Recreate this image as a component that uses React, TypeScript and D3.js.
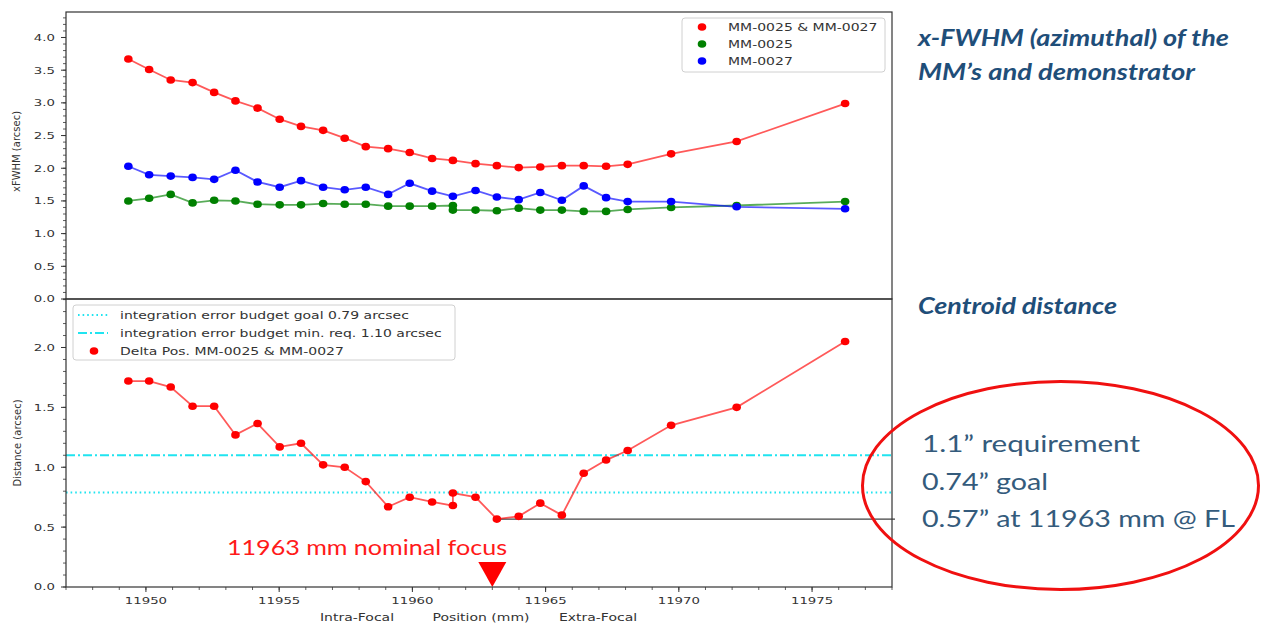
import * as d3 from 'd3';
import { useEffect, useRef } from 'react';

// focus positions (mm), one per measurement
const positions = [
  11949.34, 11950.12, 11950.93, 11951.75, 11952.56, 11953.36, 11954.19, 11955.02, 11955.82,
  11956.65, 11957.46, 11958.25, 11959.09, 11959.9, 11960.74, 11961.52, 11962.37, 11963.17,
  11963.99, 11964.8, 11965.61, 11966.43, 11967.27, 11968.08, 11969.71, 11972.17, 11976.24,
];
// same positions, with the repeated measurement at 11961.52
const positionsRepeat = [
  11949.34, 11950.12, 11950.93, 11951.75, 11952.56, 11953.36, 11954.19, 11955.02, 11955.82,
  11956.65, 11957.46, 11958.25, 11959.09, 11959.9, 11960.74, 11961.52, 11961.52, 11962.37,
  11963.17, 11963.99, 11964.8, 11965.61, 11966.43, 11967.27, 11968.08, 11969.71, 11972.17,
  11976.24,
];

const fwhmBoth = [
  3.67, 3.51, 3.35, 3.31, 3.16, 3.03, 2.92, 2.75, 2.64, 2.58, 2.46, 2.33, 2.3, 2.24, 2.15, 2.12,
  2.07, 2.04, 2.01, 2.02, 2.04, 2.04, 2.03, 2.06, 2.22, 2.41, 2.99,
];
const fwhmMM0027 = [
  2.03, 1.9, 1.88, 1.86, 1.83, 1.97, 1.79, 1.71, 1.81, 1.71, 1.67, 1.71, 1.6, 1.77, 1.65, 1.57,
  1.66, 1.56, 1.52, 1.63, 1.51, 1.73, 1.55, 1.49, 1.49, 1.41, 1.38,
];
const fwhmMM0025 = [
  1.5, 1.54, 1.6, 1.47, 1.51, 1.5, 1.45, 1.44, 1.44, 1.46, 1.45, 1.45, 1.42, 1.42, 1.42, 1.43,
  1.36, 1.36, 1.35, 1.39, 1.36, 1.36, 1.34, 1.34, 1.37, 1.4, 1.43, 1.49,
];
const deltaPos = [
  1.72, 1.72, 1.67, 1.51, 1.51, 1.27, 1.365, 1.17, 1.2, 1.02, 1.0, 0.88, 0.67, 0.75, 0.71, 0.68,
  0.785, 0.75, 0.567, 0.59, 0.7, 0.6, 0.95, 1.06, 1.14, 1.35, 1.5, 2.05,
];

const xTicks = [11950, 11955, 11960, 11965, 11970, 11975];
const yTicksTop = [0, 0.5, 1, 1.5, 2, 2.5, 3, 3.5, 4];
const yTicksBottom = [0, 0.5, 1, 1.5, 2];

const goalLimit = 0.79;
const reqLimit = 1.1;
const nominalFocus = 11963;
const bestPosition = 11963.17;
const bestDistance = 0.567;

const topLegend = ['MM-0025 & MM-0027', 'MM-0025', 'MM-0027'];
const bottomLegend = [
  'integration error budget goal 0.79 arcsec',
  'integration error budget min. req. 1.10 arcsec',
  'Delta Pos. MM-0025 & MM-0027',
];
const ellipseNotes = ['1.1\u201d requirement', '0.74\u201d goal', '0.57\u201d at 11963 mm @ FL'];

const W = 1262;
const H = 626;
const SX = 1.4; // the source figure is stretched horizontally

const Chart = () => {
  const ref = useRef<SVGSVGElement>(null);

  useEffect(() => {
    const svg = d3.select(ref.current);
    svg.selectAll('*').remove();

    const left = 66;
    const right = 892;
    const topY = 12;
    const midY = 299;
    const botY = 587;

    const x = d3.scaleLinear().domain([11947, 11978]).range([left, right]);
    const yTop = d3.scaleLinear().domain([0, 4.39]).range([midY, topY]);
    const yBot = d3.scaleLinear().domain([0, 2.405]).range([botY, midY]);

    const mpl = (g: any, px: number, py: number, s: string, size: number, anchor: string) =>
      g
        .append('text')
        .attr('transform', `translate(${px},${py}) scale(${SX},1)`)
        .attr('text-anchor', anchor)
        .attr('font-family', 'DejaVu Sans')
        .attr('font-size', size)
        .attr('fill', '#333')
        .text(s);

    const g = svg.append('g');

    // y axes with minor ticks
    const drawY = (scale: any, ticks: number[], maxVal: number) => {
      d3.range(0, maxVal + 1e-9, 0.1).forEach((v) => {
        g.append('line')
          .attr('x1', left - 3).attr('x2', left)
          .attr('y1', scale(v)).attr('y2', scale(v))
          .attr('stroke', '#333').attr('stroke-width', 0.8);
      });
      ticks.forEach((v) => {
        g.append('line')
          .attr('x1', left - 5).attr('x2', left)
          .attr('y1', scale(v)).attr('y2', scale(v))
          .attr('stroke', '#333').attr('stroke-width', 1);
        mpl(g, 55, scale(v) + 3.4, d3.format('.1f')(v), 9.5, 'end');
      });
    };
    drawY(yTop, yTicksTop, 4.39);
    drawY(yBot, yTicksBottom, 2.4);

    // x axis (bottom panel)
    d3.range(11947, 11979, 1).forEach((v) => {
      g.append('line')
        .attr('x1', x(v)).attr('x2', x(v))
        .attr('y1', botY).attr('y2', botY + 3)
        .attr('stroke', '#333').attr('stroke-width', 0.8);
    });
    xTicks.forEach((v) => {
      g.append('line')
        .attr('x1', x(v)).attr('x2', x(v))
        .attr('y1', botY).attr('y2', botY + 5)
        .attr('stroke', '#333').attr('stroke-width', 1);
      mpl(g, x(v), 604, String(v), 9.5, 'middle');
    });
    const cx = (left + right) / 2;
    mpl(g, cx - 122, 621, 'Intra-Focal', 10, 'middle');
    mpl(g, cx + 2, 621, 'Position (mm)', 10, 'middle');
    mpl(g, cx + 119, 621, 'Extra-Focal', 10, 'middle');

    g.append('text')
      .attr('transform', `translate(20,${(topY + midY) / 2 - 4}) rotate(-90)`)
      .attr('text-anchor', 'middle')
      .attr('font-family', 'DejaVu Sans')
      .attr('font-size', 10)
      .attr('fill', '#333')
      .text('xFWHM (arcsec)');
    g.append('text')
      .attr('transform', `translate(21,${(midY + botY) / 2}) rotate(-90)`)
      .attr('text-anchor', 'middle')
      .attr('font-family', 'DejaVu Sans')
      .attr('font-size', 10)
      .attr('fill', '#333')
      .text('Distance (arcsec)');

    // reference lines
    g.append('line')
      .attr('x1', left).attr('x2', right)
      .attr('y1', yBot(goalLimit)).attr('y2', yBot(goalLimit))
      .attr('stroke', '#20e4f0').attr('stroke-width', 2)
      .attr('stroke-dasharray', '1.6,3');
    g.append('line')
      .attr('x1', left).attr('x2', right)
      .attr('y1', yBot(reqLimit)).attr('y2', yBot(reqLimit))
      .attr('stroke', '#20e4f0').attr('stroke-width', 2)
      .attr('stroke-dasharray', '9,3,2,3');
    g.append('line')
      .attr('x1', x(bestPosition)).attr('x2', 895)
      .attr('y1', yBot(bestDistance)).attr('y2', yBot(bestDistance))
      .attr('stroke', '#111').attr('stroke-width', 1);

    const series = (xs: number[], ys: number[], scale: any, color: string) => {
      const pts = xs.map((v, i) => [x(v), scale(ys[i])] as [number, number]);
      g.append('path')
        .attr('d', d3.line()(pts))
        .attr('fill', 'none')
        .attr('stroke', color)
        .attr('stroke-opacity', 0.65)
        .attr('stroke-width', 1.8);
      g.append('g')
        .selectAll('ellipse')
        .data(pts)
        .enter()
        .append('ellipse')
        .attr('cx', (p) => p[0])
        .attr('cy', (p) => p[1])
        .attr('rx', 4.3)
        .attr('ry', 3.8)
        .attr('fill', color);
    };
    series(positions, fwhmBoth, yTop, '#ff0000');
    series(positionsRepeat, fwhmMM0025, yTop, '#008000');
    series(positions, fwhmMM0027, yTop, '#0000ff');
    series(positionsRepeat, deltaPos, yBot, '#ff0000');

    // nominal focus marker
    const fx = x(nominalFocus);
    g.append('path')
      .attr('d', `M${fx - 14},562 L${fx + 14},562 L${fx},587 Z`)
      .attr('fill', '#ff0000');
    g.append('text')
      .attr('x', 227).attr('y', 555)
      .attr('font-family', 'Lato')
      .attr('font-size', 22)
      .attr('fill', '#ff1a1a')
      .attr('textLength', 280)
      .attr('lengthAdjust', 'spacingAndGlyphs')
      .text(`${nominalFocus} mm nominal focus`);

    // frames
    g.append('rect')
      .attr('x', left).attr('y', topY)
      .attr('width', right - left).attr('height', midY - topY)
      .attr('fill', 'none').attr('stroke', '#333').attr('stroke-width', 1.2);
    g.append('rect')
      .attr('x', left).attr('y', midY)
      .attr('width', right - left).attr('height', botY - midY)
      .attr('fill', 'none').attr('stroke', '#333').attr('stroke-width', 1.2);

    // top legend
    const topColors = ['#ff0000', '#008000', '#0000ff'];
    g.append('rect')
      .attr('x', 682).attr('y', 18).attr('width', 203).attr('height', 54).attr('rx', 3)
      .attr('fill', '#fff').attr('fill-opacity', 0.8)
      .attr('stroke', '#d0d0d0');
    topLegend.forEach((label, i) => {
      const ry = 27 + i * 17;
      g.append('ellipse')
        .attr('cx', 702).attr('cy', ry).attr('rx', 4.3).attr('ry', 3.8)
        .attr('fill', topColors[i]);
      mpl(g, 728, ry + 3.6, label, 10, 'start');
    });

    // bottom legend
    g.append('rect')
      .attr('x', 73).attr('y', 305).attr('width', 382).attr('height', 55).attr('rx', 3)
      .attr('fill', '#fff').attr('fill-opacity', 0.8)
      .attr('stroke', '#d0d0d0');
    const rows = [315, 333, 351];
    g.append('line')
      .attr('x1', 78).attr('x2', 108).attr('y1', rows[0]).attr('y2', rows[0])
      .attr('stroke', '#20e4f0').attr('stroke-width', 2).attr('stroke-dasharray', '1.6,3');
    g.append('line')
      .attr('x1', 78).attr('x2', 108).attr('y1', rows[1]).attr('y2', rows[1])
      .attr('stroke', '#20e4f0').attr('stroke-width', 2).attr('stroke-dasharray', '9,3,2,3');
    g.append('ellipse')
      .attr('cx', 94).attr('cy', rows[2]).attr('rx', 4.3).attr('ry', 3.8)
      .attr('fill', '#ff0000');
    bottomLegend.forEach((label, i) => {
      mpl(g, 120, rows[i] + 3.6, label, 10, 'start');
    });

    // slide annotations
    const title = (px: number, py: number, s: string, len: number) =>
      g.append('text')
        .attr('x', px).attr('y', py)
        .attr('font-family', 'Lato')
        .attr('font-weight', 'bold')
        .attr('font-style', 'italic')
        .attr('font-size', 22)
        .attr('fill', '#1f4e79')
        .attr('textLength', len)
        .attr('lengthAdjust', 'spacingAndGlyphs')
        .text(s);
    title(918, 46, 'x-FWHM (azimuthal) of the', 311);
    title(918, 79.5, 'MM\u2019s and demonstrator', 277);
    title(918, 313.5, 'Centroid distance', 199);

    g.append('ellipse')
      .attr('cx', 1060.5).attr('cy', 485.5).attr('rx', 198).attr('ry', 104)
      .attr('fill', 'none').attr('stroke', '#f01010').attr('stroke-width', 3);
    const noteY = [451.7, 490, 526.7];
    const noteLen = [218, 126, 313];
    ellipseNotes.forEach((s, i) => {
      g.append('text')
        .attr('x', 922).attr('y', noteY[i])
        .attr('font-family', 'Lato')
        .attr('font-size', 24)
        .attr('fill', '#345b7c')
        .attr('textLength', noteLen[i])
        .attr('lengthAdjust', 'spacingAndGlyphs')
        .text(s);
    });

    return () => {
      svg.selectAll('*').remove();
    };
  }, []);

  return (
    <svg
      ref={ref}
      width={W}
      height={H}
      style={{ position: 'absolute', left: 0, top: 0, background: '#fff' }}
      role="img"
      aria-label="xFWHM and centroid distance vs focus position"
    />
  );
};

export default function App() {
  return <Chart />;
}
